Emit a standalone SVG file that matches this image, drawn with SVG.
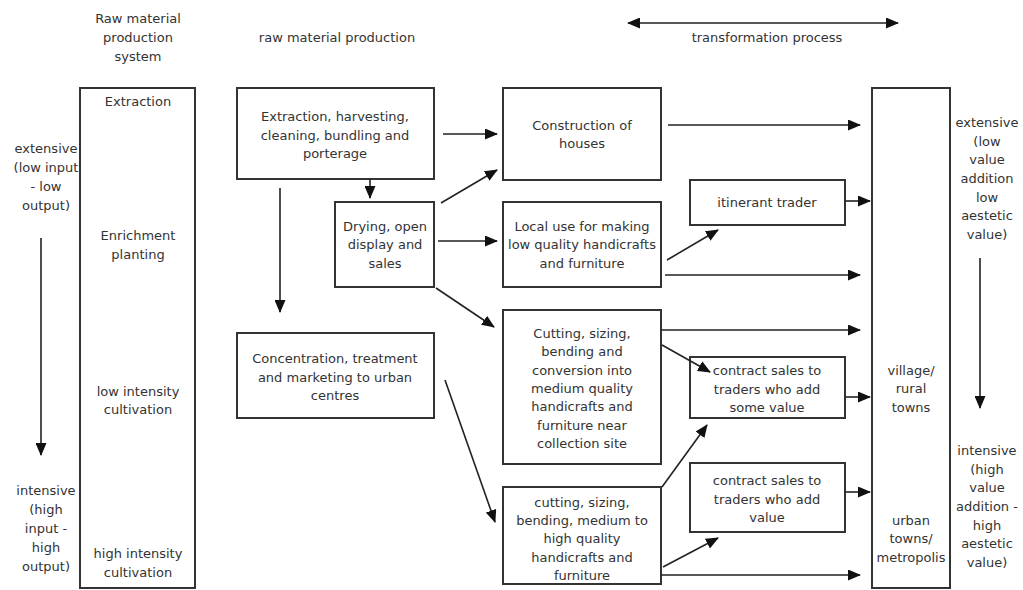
<svg xmlns="http://www.w3.org/2000/svg" width="1023" height="590" viewBox="0 0 1023 590">
<defs>
<style>
.box{fill:#fff;stroke:#333;stroke-width:2}
.t{font-family:"DejaVu Sans","Liberation Sans",sans-serif;font-size:13px;fill:#333;text-anchor:middle}
.c{stroke:#222;stroke-width:1.6;fill:none;marker-end:url(#ah)}
</style>
<marker id="ah" markerWidth="13" markerHeight="11" refX="12" refY="5.5" orient="auto-start-reverse" markerUnits="userSpaceOnUse"><path d="M0,0 L13,5.5 L0,11 z" fill="#111"/></marker>
</defs>
<rect width="1023" height="590" fill="#fff"/>

<g id="labels">
<text class="t" x="138" y="23">Raw material</text>
<text class="t" x="138" y="42">production</text>
<text class="t" x="138" y="61">system</text>
<text class="t" x="337" y="42">raw material production</text>
<text class="t" x="767" y="42">transformation process</text>
<text class="t" x="46" y="153">extensive</text>
<text class="t" x="46" y="172">(low input</text>
<text class="t" x="46" y="191">- low</text>
<text class="t" x="46" y="210">output)</text>
<text class="t" x="46" y="495">intensive</text>
<text class="t" x="46" y="514">(high</text>
<text class="t" x="46" y="533">input -</text>
<text class="t" x="46" y="552">high</text>
<text class="t" x="46" y="571">output)</text>
<text class="t" x="987" y="127">extensive</text>
<text class="t" x="987" y="146">(low</text>
<text class="t" x="987" y="164">value</text>
<text class="t" x="987" y="183">addition</text>
<text class="t" x="987" y="202">low</text>
<text class="t" x="987" y="220">aestetic</text>
<text class="t" x="987" y="239">value)</text>
<text class="t" x="987" y="455">intensive</text>
<text class="t" x="987" y="474">(high</text>
<text class="t" x="987" y="492">value</text>
<text class="t" x="987" y="511">addition -</text>
<text class="t" x="987" y="530">high</text>
<text class="t" x="987" y="548">aestetic</text>
<text class="t" x="987" y="567">value)</text>
</g>

<g id="system">
<rect class="box" x="80" y="88" width="115" height="500"/>
<text class="t" x="138" y="106">Extraction</text>
<text class="t" x="138" y="240">Enrichment</text>
<text class="t" x="138" y="259">planting</text>
<text class="t" x="138" y="396">low intensity</text>
<text class="t" x="138" y="414">cultivation</text>
<text class="t" x="138" y="558">high intensity</text>
<text class="t" x="138" y="577">cultivation</text>
</g>

<g id="extraction">
<rect class="box" x="237" y="88" width="197" height="91"/>
<text class="t" x="335" y="121">Extraction, harvesting,</text>
<text class="t" x="335" y="140">cleaning, bundling and</text>
<text class="t" x="335" y="158">porterage</text>
</g>

<g id="drying">
<rect class="box" x="335" y="202" width="99" height="85"/>
<text class="t" x="385" y="231">Drying, open</text>
<text class="t" x="385" y="249">display and</text>
<text class="t" x="385" y="268">sales</text>
</g>

<g id="concentration">
<rect class="box" x="237" y="333" width="197" height="85"/>
<text class="t" x="335" y="363">Concentration, treatment</text>
<text class="t" x="335" y="382">and marketing to urban</text>
<text class="t" x="335" y="400">centres</text>
</g>

<g id="construction">
<rect class="box" x="503" y="88" width="158" height="92"/>
<text class="t" x="582" y="130">Construction of</text>
<text class="t" x="582" y="148">houses</text>
</g>

<g id="localuse">
<rect class="box" x="503" y="202" width="158" height="85"/>
<text class="t" x="582" y="231">Local use for making</text>
<text class="t" x="582" y="249">low quality handicrafts</text>
<text class="t" x="582" y="268">and furniture</text>
</g>

<g id="cutting1">
<rect class="box" x="503" y="310" width="158" height="154"/>
<text class="t" x="582" y="338">Cutting, sizing,</text>
<text class="t" x="582" y="356">bending and</text>
<text class="t" x="582" y="375">conversion into</text>
<text class="t" x="582" y="393">medium quality</text>
<text class="t" x="582" y="411">handicrafts and</text>
<text class="t" x="582" y="430">furniture near</text>
<text class="t" x="582" y="448">collection site</text>
</g>

<g id="cutting2">
<rect class="box" x="503" y="487" width="158" height="97"/>
<text class="t" x="582" y="507">cutting, sizing,</text>
<text class="t" x="582" y="525">bending, medium to</text>
<text class="t" x="582" y="543">high quality</text>
<text class="t" x="582" y="562">handicrafts and</text>
<text class="t" x="582" y="580">furniture</text>
</g>

<g id="itinerant">
<rect class="box" x="690" y="180" width="155" height="45"/>
<text class="t" x="767" y="207">itinerant trader</text>
</g>

<g id="contract1">
<rect class="box" x="690" y="357" width="155" height="61"/>
<text class="t" x="767" y="375">contract sales to</text>
<text class="t" x="767" y="394">traders who add</text>
<text class="t" x="767" y="412">some value</text>
</g>

<g id="contract2">
<rect class="box" x="690" y="463" width="155" height="69"/>
<text class="t" x="767" y="485">contract sales to</text>
<text class="t" x="767" y="504">traders who add</text>
<text class="t" x="767" y="522">value</text>
</g>

<g id="towns">
<rect class="box" x="872" y="88" width="78" height="500"/>
<text class="t" x="911" y="375">village/</text>
<text class="t" x="911" y="393">rural</text>
<text class="t" x="911" y="412">towns</text>
<text class="t" x="911" y="525">urban</text>
<text class="t" x="911" y="543">towns/</text>
<text class="t" x="911" y="562">metropolis</text>
</g>

<g id="connectors">
<line class="c" x1="41" y1="238" x2="41" y2="455"/>
<line class="c" x1="980" y1="258" x2="980" y2="408"/>
<line class="c" x1="628" y1="23" x2="898" y2="23" style="marker-start:url(#ah)"/>
<line class="c" x1="370" y1="179" x2="370" y2="198"/>
<line class="c" x1="280" y1="188" x2="280" y2="312"/>
<line class="c" x1="443" y1="134" x2="497" y2="134"/>
<line class="c" x1="441" y1="203" x2="497" y2="170"/>
<line class="c" x1="438" y1="241" x2="497" y2="241"/>
<line class="c" x1="436" y1="288" x2="494" y2="327"/>
<line class="c" x1="445" y1="380" x2="495" y2="522"/>
<line class="c" x1="668" y1="125" x2="860" y2="125"/>
<line class="c" x1="667" y1="260" x2="718" y2="230"/>
<line class="c" x1="665" y1="275" x2="860" y2="275"/>
<line class="c" x1="845" y1="201" x2="870" y2="201"/>
<line class="c" x1="661" y1="330" x2="860" y2="330"/>
<line class="c" x1="662" y1="345" x2="710" y2="372"/>
<line class="c" x1="845" y1="397" x2="870" y2="397"/>
<line class="c" x1="662" y1="487" x2="707" y2="425"/>
<line class="c" x1="845" y1="492" x2="870" y2="492"/>
<line class="c" x1="663" y1="567" x2="718" y2="538"/>
<line class="c" x1="661" y1="575" x2="860" y2="575"/>
</g>
</svg>
